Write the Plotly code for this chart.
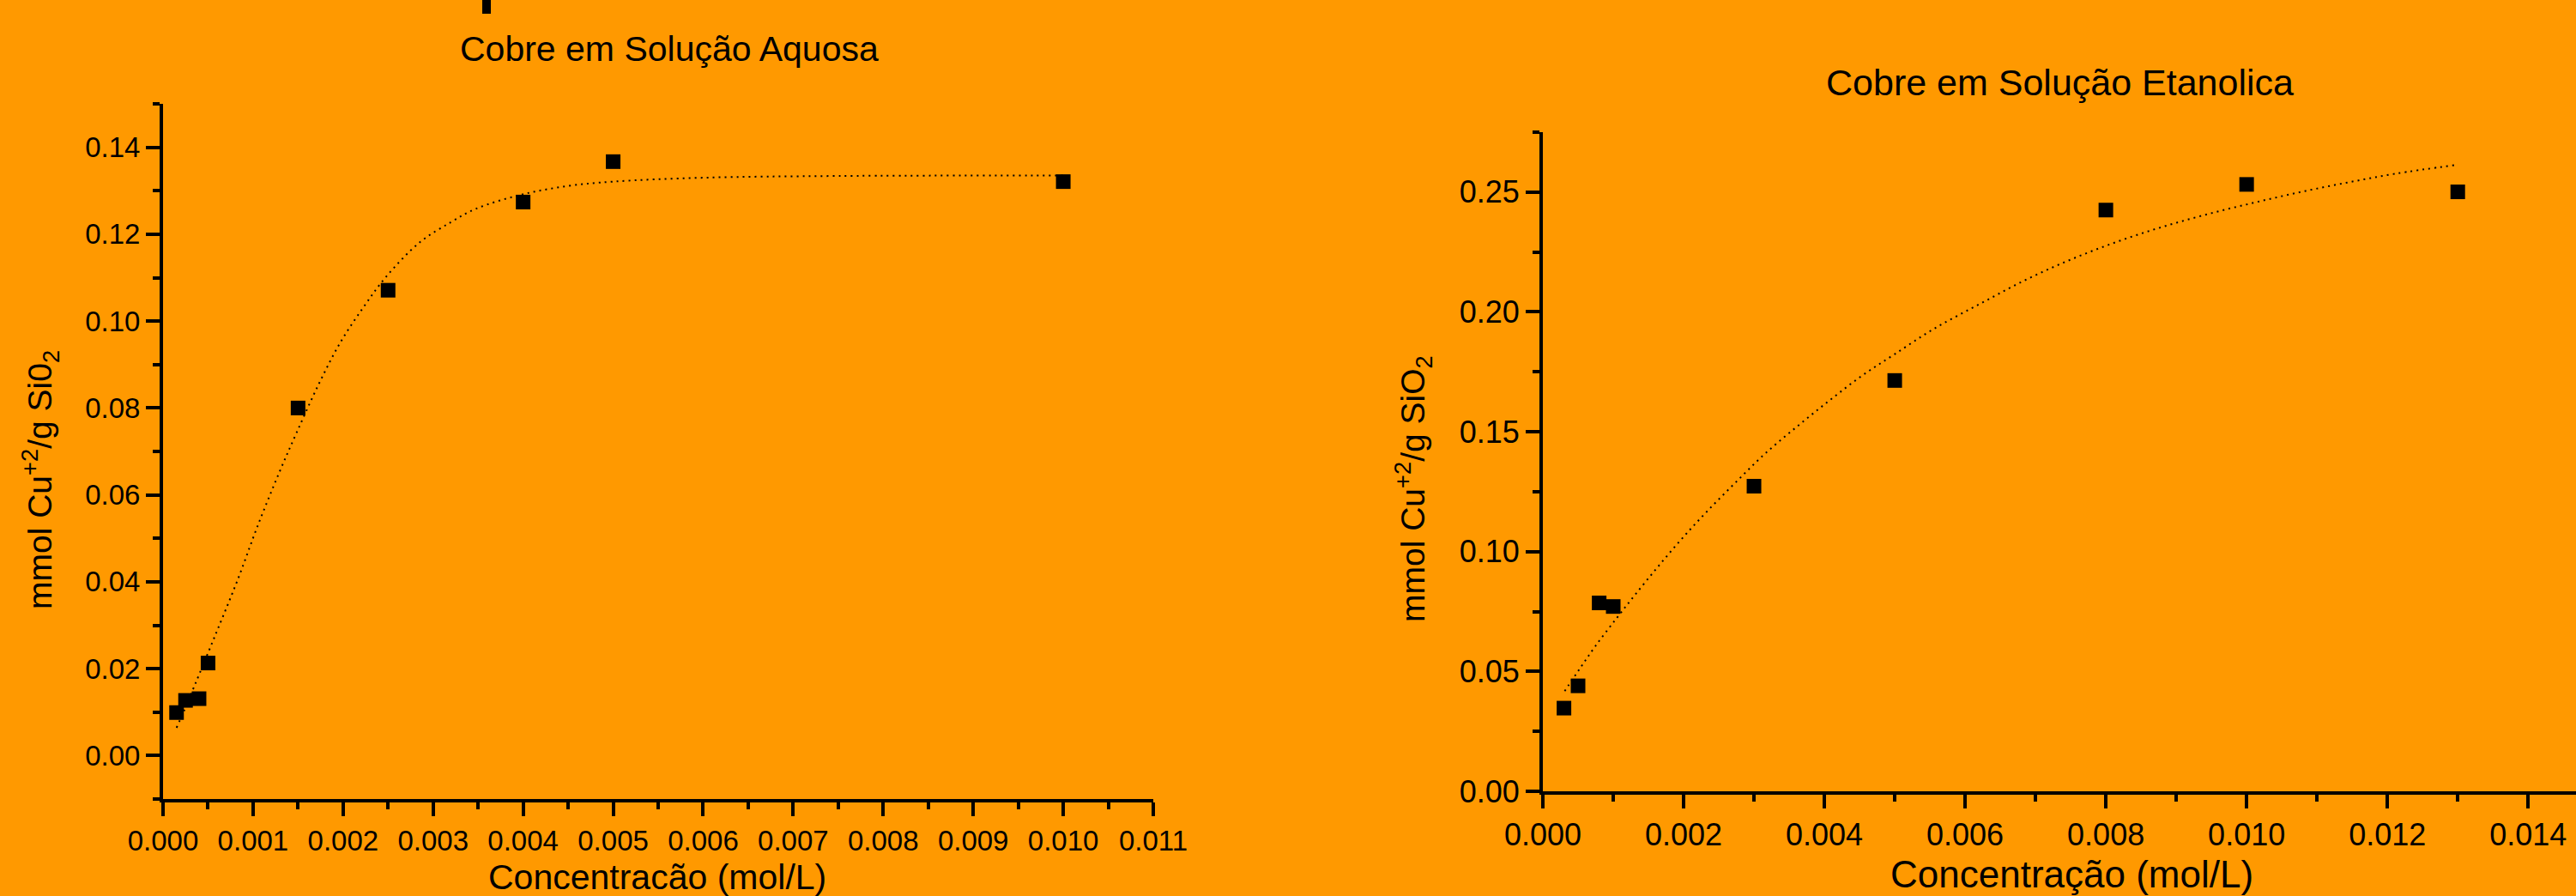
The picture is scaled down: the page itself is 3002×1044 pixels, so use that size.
import plotly.graph_objects as go

W, H = 3002, 1044
BG = "#FF9900"
FONT = "Liberation Sans, Arial, sans-serif"

# ---- Left chart: Cobre em Solução Aquosa ----
aq_x = [0.00015, 0.00025, 0.0004, 0.0005, 0.0015, 0.0025, 0.004, 0.005, 0.010]
aq_y = [0.0099, 0.0127, 0.0131, 0.0213, 0.0800, 0.1071, 0.1274, 0.1367, 0.1321]

aq_fit_x = [0.00015, 0.00024, 0.00035, 0.00059, 0.00083, 0.00105, 0.00129, 0.00149,
            0.00173, 0.00197, 0.00223, 0.00247, 0.00285, 0.0032, 0.00347, 0.00398,
            0.0045, 0.0050, 0.0060, 0.0075, 0.0100]
aq_fit_y = [0.0064, 0.0106, 0.0161, 0.0282, 0.0405, 0.0528, 0.0651, 0.0746,
            0.0855, 0.0951, 0.1033, 0.1100, 0.1181, 0.1228, 0.1258, 0.1291,
            0.1311, 0.1321, 0.1330, 0.1334, 0.1335]

# ---- Right chart: Cobre em Solução Etanolica ----
et_x = [0.0003, 0.0005, 0.0008, 0.0010, 0.003, 0.005, 0.008, 0.010, 0.013]
et_y = [0.0347, 0.0440, 0.0786, 0.0771, 0.1273, 0.1714, 0.2425, 0.2532, 0.2501]

et_fit_x = [0.00031, 0.00053, 0.00075, 0.00105, 0.0013, 0.00163, 0.00197, 0.00233,
            0.00273, 0.00314, 0.0036, 0.00407, 0.00453, 0.0050, 0.00556, 0.00622,
            0.00687, 0.00753, 0.00819, 0.00884, 0.0095, 0.01015, 0.01081, 0.01147,
            0.01212, 0.01297]
et_fit_y = [0.0418, 0.0514, 0.0607, 0.0723, 0.0816, 0.0935, 0.1052, 0.1167,
            0.1286, 0.1404, 0.1519, 0.1630, 0.1733, 0.1824, 0.1930, 0.2035,
            0.2135, 0.2222, 0.2296, 0.2358, 0.2412, 0.2459, 0.2503, 0.2542,
            0.2577, 0.2613]

aq_xticks = [0.000, 0.001, 0.002, 0.003, 0.004, 0.005, 0.006, 0.007, 0.008, 0.009, 0.010, 0.011]
aq_yticks = [0.00, 0.02, 0.04, 0.06, 0.08, 0.10, 0.12, 0.14]
et_xticks = [0.000, 0.002, 0.004, 0.006, 0.008, 0.010, 0.012, 0.014]
et_yticks = [0.00, 0.05, 0.10, 0.15, 0.20, 0.25]

titles = ["Cobre em Solução Aquosa", "Cobre em Solução Etanolica"]
xtitles = ["Concentracão (mol/L)", "Concentração (mol/L)"]
ytitles = ["mmol Cu<sup>+2</sup>/g Si0<sub>2</sub>", "mmol Cu<sup>+2</sup>/g SiO<sub>2</sub>"]


def px(x):
    return x / W


def py(y):
    return 1 - y / H


fig = go.Figure()

marker = dict(symbol="square", size=17, color="black", line=dict(width=0))
fitline = dict(color="black", width=2, dash="2px,5px", shape="spline", smoothing=1.0)

fig.add_trace(go.Scatter(x=aq_fit_x, y=aq_fit_y, mode="lines", line=fitline,
                         xaxis="x", yaxis="y", showlegend=False, hoverinfo="skip"))
fig.add_trace(go.Scatter(x=aq_x, y=aq_y, mode="markers", marker=marker,
                         xaxis="x", yaxis="y", showlegend=False))
fig.add_trace(go.Scatter(x=et_fit_x, y=et_fit_y, mode="lines", line=fitline,
                         xaxis="x2", yaxis="y2", showlegend=False, hoverinfo="skip"))
fig.add_trace(go.Scatter(x=et_x, y=et_y, mode="markers", marker=marker,
                         xaxis="x2", yaxis="y2", showlegend=False))


def axis(domain, rng, tickvals, fmt, minor_dtick, size, anchor):
    return dict(
        domain=domain, range=rng, anchor=anchor, automargin=False,
        tickmode="array", tickvals=tickvals,
        ticktext=[format(v, fmt) for v in tickvals],
        showline=True, linewidth=4, linecolor="black",
        ticks="outside", ticklen=16, tickwidth=4, tickcolor="black",
        minor=dict(ticks="outside", ticklen=8, tickwidth=4, tickcolor="black",
                   tickmode="linear", tick0=0, dtick=minor_dtick, showgrid=False),
        showgrid=False, zeroline=False,
        tickfont=dict(family=FONT, size=size, color="black"),
        fixedrange=True,
    )


L_x0, L_x1, L_top, L_bot = 190, 1344, 121, 931
R_x0, R_x1, R_top, R_bot = 1798, 3002, 154, 922

fig.update_layout(
    width=W, height=H,
    margin=dict(l=0, r=0, t=0, b=0, autoexpand=False),
    paper_bgcolor=BG, plot_bgcolor=BG,
    font=dict(family=FONT, color="black"),
    xaxis=axis([px(L_x0), px(L_x1)], [0, 0.011], aq_xticks, ".3f", 0.0005, 33, "y"),
    yaxis=axis([py(L_bot), py(L_top)], [-0.01, 0.15], aq_yticks, ".2f", 0.01, 33, "x"),
    xaxis2=axis([px(R_x0), 1.0], [0, 0.01468], et_xticks, ".3f", 0.001, 36, "y2"),
    yaxis2=axis([py(R_bot), py(R_top)], [0, 0.275], et_yticks, ".2f", 0.025, 36, "x2"),
)

ann = []
# chart titles
ann.append(dict(text=titles[0], x=px(780), y=py(57), font=dict(size=41)))
ann.append(dict(text=titles[1], x=px(2400), y=py(96), font=dict(size=43)))
# x titles
ann.append(dict(text=xtitles[0], x=px(766), y=py(1022), font=dict(size=41)))
ann.append(dict(text=xtitles[1], x=px(2414), y=py(1018), font=dict(size=44)))
# y titles
ann.append(dict(text=ytitles[0], x=px(47), y=py(559), font=dict(size=39), textangle=-90))
ann.append(dict(text=ytitles[1], x=px(1647), y=py(570), font=dict(size=39), textangle=-90))
for a in ann:
    a.update(xref="paper", yref="paper", xanchor="center", yanchor="middle",
             showarrow=False)
    a["font"].update(family=FONT, color="black")
fig.update_layout(annotations=ann)

# small black bar at top-left (artifact in source)
fig.add_shape(type="rect", xref="paper", yref="paper",
              x0=px(562), x1=px(572), y0=py(16), y1=1.0,
              fillcolor="black", line=dict(width=0))

fig.write_html(
    "out.html",
    config={"displayModeBar": False},
    post_script="document.body.style.margin='0';document.body.style.overflow='hidden';",
)
